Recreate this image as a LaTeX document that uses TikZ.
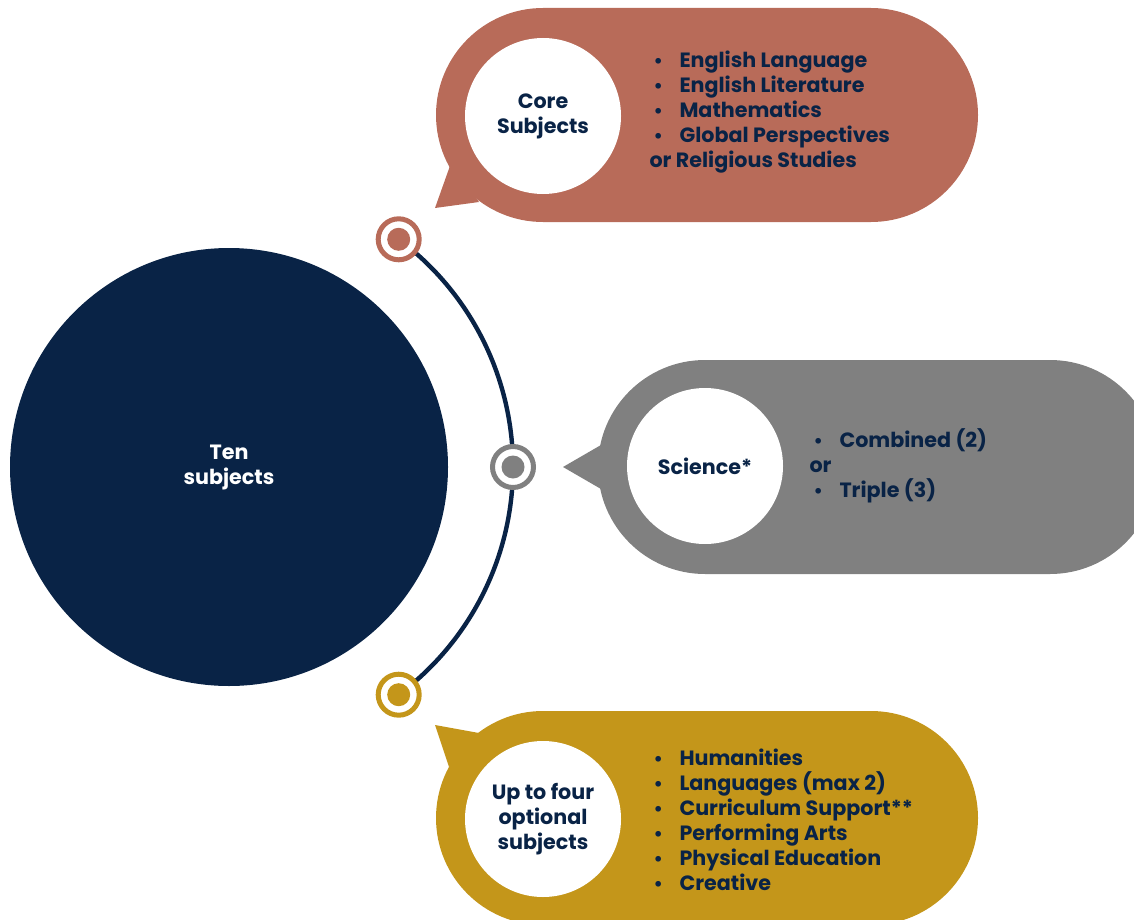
\documentclass[tikz,border=0pt]{standalone}
\usepackage{fontspec}
\setmainfont{Poppins}
\usepackage{tikz}
\tikzset{every picture/.style={line width=0.75pt}}
\definecolor{navy}{RGB}{9,35,70}
\definecolor{terra}{RGB}{184,107,89}
\definecolor{stone}{RGB}{128,128,128}
\definecolor{gold}{RGB}{196,150,26}
\newcommand{\bul}{\makebox[22.5pt][l]{\hspace{3pt}{\fontsize{14}{14}\selectfont\textbullet}}}
\tikzset{
  label txt/.style={font=\bfseries\fontsize{15.5}{18.75}\selectfont, text=navy, inner sep=0pt},
  hub/.style={circle, fill=white, minimum size=117pt, inner sep=0pt, align=center, label txt},
  ring/.style={circle, draw=#1, fill=white, line width=3.75pt, minimum size=30.75pt, inner sep=0pt},
  list txt/.style={label txt, align=left, anchor=west},
  timeline/.style={draw=navy, line width=3.3pt}
}

\begin{document}
\begin{tikzpicture}[x=0.75pt,y=0.75pt,yscale=-1,xscale=1]
\useasboundingbox (0,0) rectangle (1134,920);

%Shape: Pill (core)
\fill [terra] (543,8) -- (871,8) arc[start angle=-90, end angle=90, radius=107] -- (543,222) arc[start angle=90, end angle=270, radius=107] -- cycle ;
\fill [terra] (451,163) -- (435,208) -- (479,202) -- cycle ;
%Shape: Pill (science)
\fill [stone] (705,360) -- (1050,360) arc[start angle=-90, end angle=90, radius=107] -- (705,574) arc[start angle=90, end angle=270, radius=107] -- cycle ;
\fill [stone] (601,445) -- (563,467) -- (601,489) -- cycle ;
%Shape: Pill (options)
\fill [gold] (543,711) -- (871,711) arc[start angle=-90, end angle=90, radius=107] -- (543,925) arc[start angle=90, end angle=270, radius=107] -- cycle ;
\fill [gold] (479,733) -- (435,725) -- (449,767) -- cycle ;

%Shape: Circle (main)
\node [circle, fill=navy, minimum size=328.5pt, inner sep=0pt, align=center, label txt, text=white] (ten) at (229,467) {Ten\\subjects};

%Timeline arc
\coordinate (coreAt) at (398.7,239.3);
\coordinate (sciAt) at (513,467);
\coordinate (optAt) at (398.7,694.7);
\draw [timeline] (coreAt) arc[start angle=-53.3, end angle=53.3, radius=284] ;

%Rings
\node [ring=terra] (coreDot) at (coreAt) {};
\fill [terra] (coreDot) circle[radius=11.5] ;
\node [ring=stone] (sciDot) at (sciAt) {};
\fill [stone] (sciDot) circle[radius=11.5] ;
\node [ring=gold] (optDot) at (optAt) {};
\fill [gold] (optDot) circle[radius=11.5] ;

%Hubs
\node [hub] (core) at (543,116) {Core\\Subjects};
\node [hub] (sci) at (705,466) {Science*};
\node [hub] (opt) at (543,819) {Up to four\\optional\\subjects};

% Text Node
\node [list txt] (coreList) at (649,112) {\bul English Language\\\bul English Literature\\\bul Mathematics\\\bul Global Perspectives\\or Religious Studies};
% Text Node
\node [list txt] (sciList) at (809,466) {\bul Combined (2)\\or\\\bul Triple (3)};
% Text Node
\node [list txt] (optList) at (649,820) {\bul Humanities\\\bul Languages (max 2)\\\bul Curriculum Support**\\\bul Performing Arts\\\bul Physical Education\\\bul Creative};

\end{tikzpicture}
\end{document}
